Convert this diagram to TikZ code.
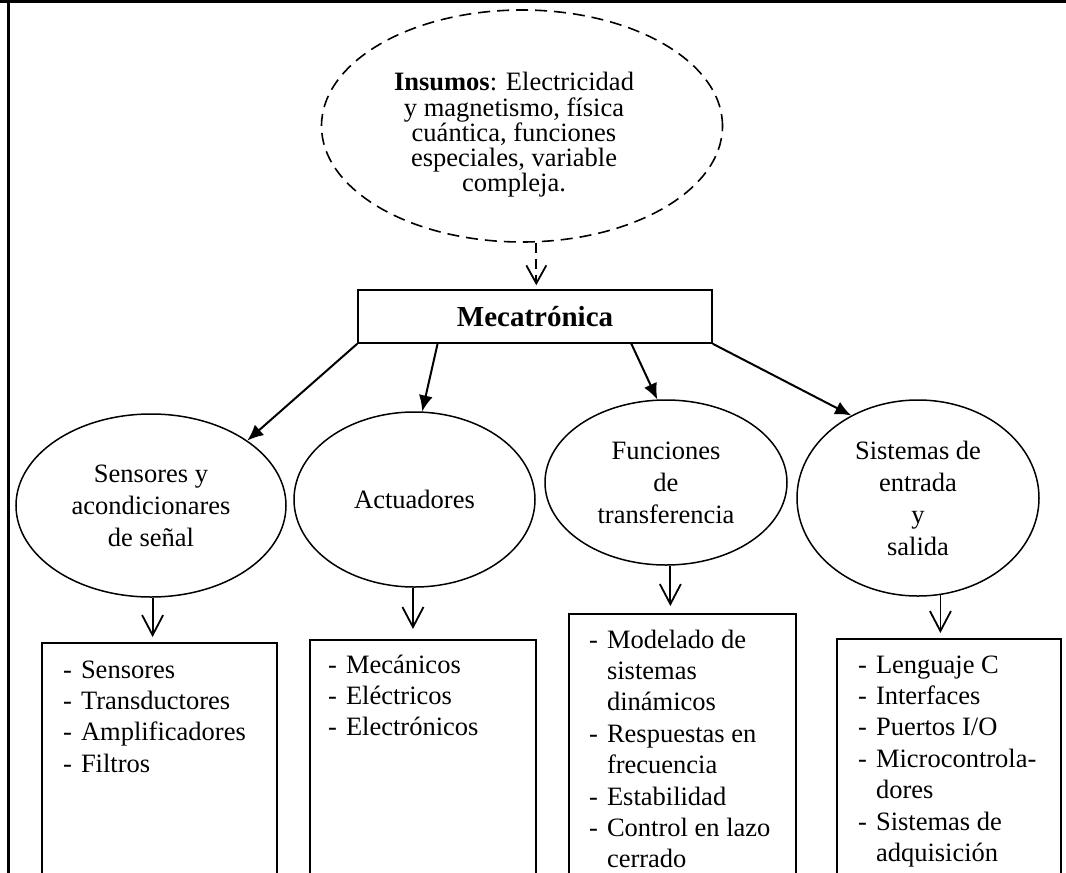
\documentclass[tikz,border=0pt]{standalone}
\usepackage{fontspec}
\setmainfont{Liberation Serif}
\usepackage{tikz}
\usetikzlibrary{arrows.meta,positioning,calc,shapes.geometric}

\newcommand{\guiones}[1]{\begin{tabular}[t]{@{}l@{\hspace{9pt}}l@{}}#1\end{tabular}}

\tikzset{
  insumo/.style={draw,ellipse,dash pattern=on 12pt off 7pt,line width=1.6pt,inner sep=0pt},
  insumotext/.style={inner sep=0pt,align=center,font=\fontsize{26.5}{25.3}\selectfont},
  oval/.style={draw,ellipse,line width=1.5pt,inner sep=0pt,align=center,
    font=\fontsize{26.5}{32}\selectfont},
  mainbox/.style={draw,line width=1.6pt,minimum width=354pt,minimum height=53pt,
    font=\fontsize{29}{34}\selectfont\bfseries},
  listbox/.style={draw,line width=1.8pt,anchor=north west,minimum height=330pt},
  listtext/.style={anchor=base west,inner sep=0pt,font=\fontsize{26.5}{31.4}\selectfont},
  mainarrow/.style={line width=2pt,-{Latex[length=16pt,width=14pt]}},
  downarrow/.style={line width=1.8pt,-{Straight Barb[length=20pt,width=21pt,line width=1.8pt]}},
  dasharrow/.style={line width=1.8pt,dash pattern=on 10pt off 6pt,
    -{Straight Barb[length=18pt,width=20pt,line width=1.8pt]}}
}

\begin{document}
\begin{tikzpicture}[x=1pt,y=-1pt]
 \useasboundingbox (0,0) rectangle (1066,873);
 \clip (0,0) rectangle (1066,873);
 \draw[line width=2.7pt] (0,1.3)--(1066,1.3);
 \draw[line width=2.7pt] (8.7,0)--(8.7,873);

 \node[insumo,minimum width=401pt,minimum height=232pt] (ins) at (522,126) {};
 \node[insumotext] (instext) at (514,135)
   {\textbf{Insumos}: Electricidad\\y magnetismo, física\\cuántica, funciones\\especiales, variable\\compleja.};
 \node[mainbox] (meca) at (535,316.5) {Mecatrónica};

 \node[oval,minimum width=270pt,minimum height=183pt] (sens) at (151,505.5) {Sensores y\\acondicionares\\de señal};
 \node[oval,minimum width=241pt,minimum height=175pt] (act) at (414.5,499.5) {Actuadores};
 \node[oval,minimum width=242pt,minimum height=165pt] (fun) at (666,482.5) {Funciones\\de\\transferencia};
 \node[oval,minimum width=242pt,minimum height=196pt] (sis) at (918,498) {Sistemas de\\entrada\\y\\salida};

 \node[listbox,minimum width=235pt] (sensbox) at (41,642) {};
 \node[listbox,minimum width=226pt] (actbox) at (309,639) {};
 \node[listbox,minimum width=227pt] (funbox) at (568,613) {};
 \node[listbox,minimum width=224pt] (sisbox) at (836,638) {};

 \node[listtext] (senslist) at ([shift={(22,36)}]sensbox.north west)
   {\guiones{- & Sensores\\ - & Transductores\\ - & Amplificadores\\ - & Filtros}};
 \node[listtext] (actlist) at ([shift={(19,34)}]actbox.north west)
   {\guiones{- & Mecánicos\\ - & Eléctricos\\ - & Electrónicos}};
 \node[listtext] (funlist) at ([shift={(21,35)}]funbox.north west)
   {\guiones{- & Modelado de\\ & sistemas\\ & dinámicos\\ - & Respuestas en\\ & frecuencia\\
     - & Estabilidad\\ - & Control en lazo\\ & cerrado}};
 \node[listtext] (sislist) at ([shift={(22,35)}]sisbox.north west)
   {\guiones{- & Lenguaje C\\ - & Interfaces\\ - & Puertos I/O\\ - & Microcontrola-\\ & dores\\
     - & Sistemas de\\ & adquisición}};

 \draw[dasharrow,shorten >=4pt] (ins.-83) -- (ins.-83 |- meca.north);

 \draw[mainarrow] (meca.south west) -- (sens.34);
 \draw[mainarrow] ($(meca.south west)!0.226!(meca.south east)$) -- (act.85);
 \draw[mainarrow] ($(meca.south west)!0.771!(meca.south east)$) -- (fun.96);
 \draw[mainarrow] (meca.south east) -- (sis.129);

 \foreach \e/\a/\b/\g in {sens/-89/sensbox/5,act/-91/actbox/10,fun/-87/funbox/7,sis/-77/sisbox/5}
   \draw[downarrow,shorten >=\g pt] (\e.\a) -- (\e.\a |- \b.north);
\end{tikzpicture}
\end{document}
